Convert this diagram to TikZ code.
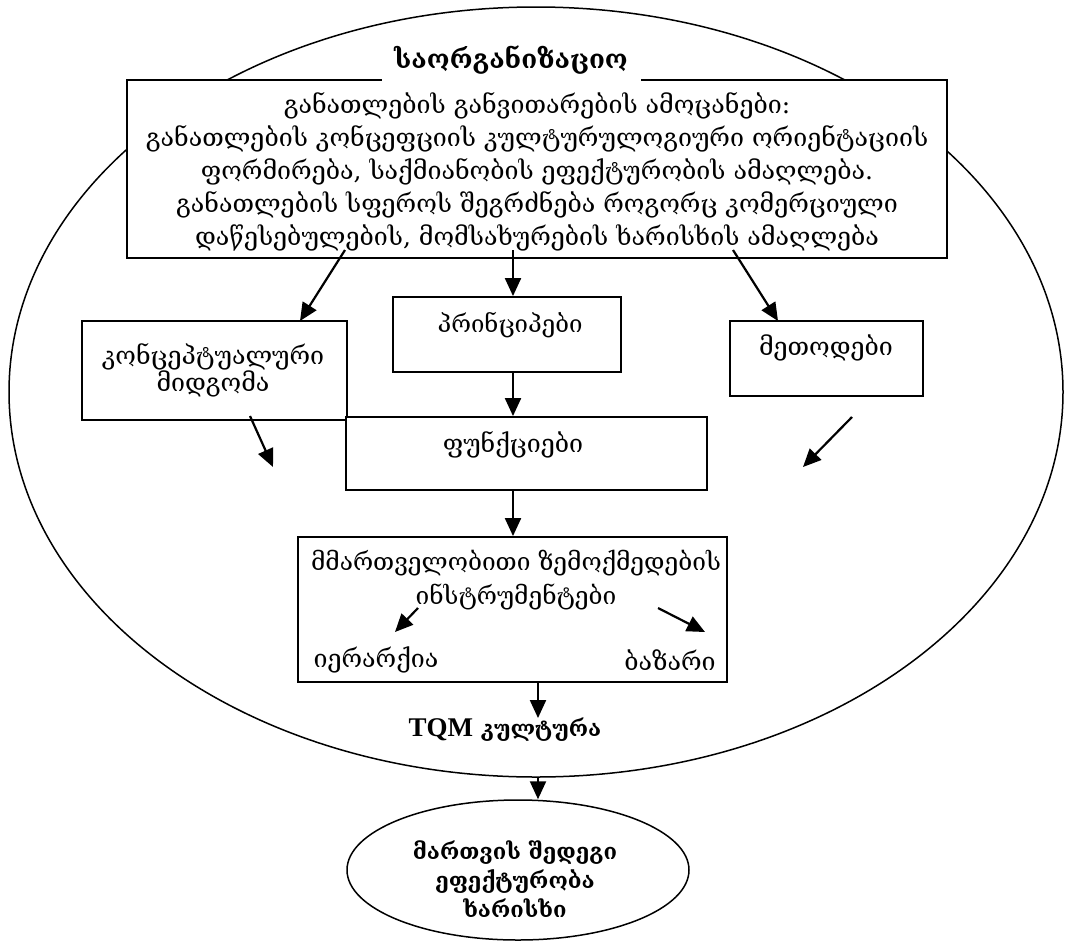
\documentclass[tikz,border=0pt]{standalone}
\usepackage{fontspec}
\setmainfont{DejaVu Serif}
\newfontfamily\latinfont{Liberation Serif}
\usetikzlibrary{arrows.meta,shapes.geometric}
\begin{document}
\begin{tikzpicture}[x=1pt,y=-1pt,
  stepbox/.style={draw, line width=1.9pt, fill=white, inner sep=0pt},
  oval/.style={draw, ellipse, line width=1.5pt, inner sep=0pt},
  lbl/.style={font=\fontsize{25}{33}\selectfont, align=center, inner sep=0pt},
  boldlbl/.style={font=\fontsize{22}{29}\selectfont\bfseries, align=center, inner sep=0pt},
  arr/.style={line width=2.2pt, -{Triangle[length=18pt,width=16pt]}},
]
\useasboundingbox (0,0) rectangle (1065,940);

% outer organisational ellipse
\node[oval, minimum width=1054pt, minimum height=770pt] (org) at (536,392) {};

% top box with the development tasks
\node[stepbox, minimum width=820pt, minimum height=178pt] (goals) at (537,169) {};
\node[lbl] (goalsT) at (537,172) {განათლების განვითარების ამოცანები:\\
განათლების კონცეფციის კულტურულოგიური ორიენტაციის\\
ფორმირება, საქმიანობის ეფექტურობის ამაღლება.\\
განათლების სფეროს შეგრძნება როგორც კომერციული\\
დაწესებულების, მომსახურების ხარისხის ამაღლება};

% heading over the top edge of the box
\node[fill=white, inner sep=0pt, minimum width=259pt, minimum height=44pt,
      font=\fontsize{26}{30}\selectfont\bfseries] (title) at (511,60) {საორგანიზაციო};

% second row
\node[stepbox, minimum width=265pt, minimum height=99pt] (concept) at (214.5,370.5) {};
\node[lbl, font=\fontsize{25}{27}\selectfont] (conceptT) at (213,370) {კონცეპტუალური\\მიდგომა};
\node[stepbox, minimum width=228pt, minimum height=75pt] (princ) at (507,334.5) {};
\node[lbl, font=\fontsize{24}{30}\selectfont] (princT) at (510,325) {პრინციპები};
\node[stepbox, minimum width=193pt, minimum height=75pt] (meth) at (826.5,358.5) {};
\node[lbl] (methT) at (826,348) {მეთოდები};

% functions
\node[stepbox, minimum width=361pt, minimum height=73pt] (func) at (526.5,453.5) {};
\node[lbl] (funcT) at (513,445) {ფუნქციები};

% management instruments
\node[stepbox, minimum width=429pt, minimum height=145pt] (instr) at (512.5,609.5) {};
\node[lbl, font=\fontsize{24.5}{34}\selectfont] (instrT) at (516,580) {მმართველობითი ზემოქმედების\\ინსტრუმენტები};
\node[lbl] (hier) at (376,660) {იერარქია};
\node[lbl] (market) at (670,660) {ბაზარი};

% culture label
\node[inner sep=0pt, font=\fontsize{22}{26}\selectfont\bfseries] (tqm) at (505,730)
  {{\latinfont\fontsize{27}{30}\selectfont\bfseries TQM} კულტურა};

% result ellipse
\node[oval, minimum width=342pt, minimum height=140pt] (res) at (518,870) {};
\node[boldlbl] (resT) at (515,879) {მართვის შედეგი\\ეფექტურობა\\ხარისხი};

% connector end points
\coordinate (a1s) at (345,250);
\coordinate (a1e) at (300,321);
\coordinate (a3s) at (733,250);
\coordinate (a3e) at (778,321);
\coordinate (a5s) at (250,416);
\coordinate (a5e) at (273,467);
\coordinate (a6s) at (852,417);
\coordinate (a6e) at (803,467);
\coordinate (a8s) at (418,608);
\coordinate (a8e) at (395,632);
\coordinate (a9s) at (658,608);
\coordinate (a9e) at (705,632);
\coordinate (mid) at (513,250);
\coordinate (low) at (538,682);

\draw[arr] (a1s) -- (a1e);
\draw[arr] (mid) -- (mid |- princ.north);
\draw[arr] (a3s) -- (a3e);
\draw[arr] (princ.south -| mid) -- (func.north -| mid);
\draw[arr] (a5s) -- (a5e);
\draw[arr] (a6s) -- (a6e);
\draw[arr] (func.south -| mid) -- (instr.north -| mid);
\draw[arr] (a8s) -- (a8e);
\draw[arr] (a9s) -- (a9e);
\draw[arr] (low) -- (low |- tqm.north);
\draw[arr] (org.south -| low) -- (res.north -| low);
\end{tikzpicture}
\end{document}
